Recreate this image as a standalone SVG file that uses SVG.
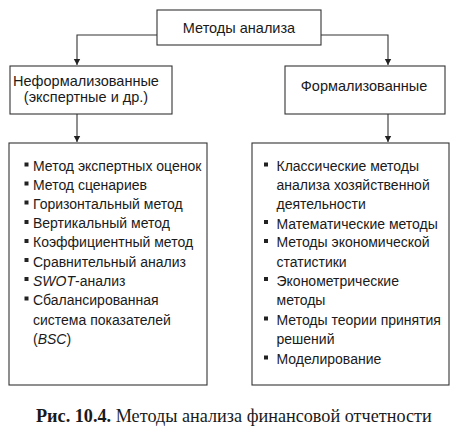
<svg xmlns="http://www.w3.org/2000/svg" width="474" height="437" viewBox="0 0 474 437">
<defs>
<marker id="ah" viewBox="0 0 6 8" refX="6" refY="4" markerWidth="6" markerHeight="8" orient="auto" markerUnits="userSpaceOnUse">
<path d="M0,0.8 L6,4 L0,7.2 Z" fill="#222"/>
</marker>
</defs>
<style>
rect.b{fill:#fff;stroke:#333;stroke-width:1.1}
text{font-family:"Liberation Sans",Arial,sans-serif;fill:#1a1a1a}
.t{font-size:14.5px}
.i{font-size:14px}
.bul{fill:#222}
.c{stroke:#333;stroke-width:1.1;fill:none}
.cap{font-family:"Liberation Serif","Times New Roman",serif;font-size:18.2px}
</style>
<rect width="474" height="437" fill="#fff"/>
<g id="connectors">
<path class="c" d="M157,35 H77 V65" marker-end="url(#ah)"/>
<path class="c" d="M321,35 H388 V65" marker-end="url(#ah)"/>
<path class="c" d="M77,114 V142" marker-end="url(#ah)"/>
<path class="c" d="M388,114 V142" marker-end="url(#ah)"/>
</g>
<g id="root">
<rect class="b" x="157" y="10" width="164" height="35"/>
<text class="t" x="239" y="33" text-anchor="middle">Методы анализа</text>
</g>
<g id="informal">
<rect class="b" x="10" y="66" width="162" height="48"/>
<text class="t" x="86" y="85.5" text-anchor="middle">Неформализованные</text>
<text class="t" x="86" y="101.5" text-anchor="middle">(экспертные и др.)</text>
</g>
<g id="formal">
<rect class="b" x="285" y="66" width="160" height="48"/>
<text class="t" x="364" y="91" text-anchor="middle">Формализованные</text>
</g>
<g id="informal-list">
<rect class="b" x="9" y="143" width="198" height="242"/>
<g class="bul">
<rect x="24.5" y="162.5" width="4" height="4"/>
<rect x="24.5" y="181.5" width="4" height="4"/>
<rect x="24.5" y="200.5" width="4" height="4"/>
<rect x="24.5" y="220" width="4" height="4"/>
<rect x="24.5" y="239" width="4" height="4"/>
<rect x="24.5" y="258" width="4" height="4"/>
<rect x="24.5" y="277" width="4" height="4"/>
<rect x="24.5" y="296.5" width="4" height="4"/>
</g>
<text class="i" x="33" y="170.7">Метод экспертных оценок</text>
<text class="i" x="33" y="189.9">Метод сценариев</text>
<text class="i" x="33" y="209">Горизонтальный метод</text>
<text class="i" x="33" y="228.2">Вертикальный метод</text>
<text class="i" x="33" y="247.4">Коэффициентный метод</text>
<text class="i" x="33" y="266.5">Сравнительный анализ</text>
<text class="i" x="33" y="285.7"><tspan font-style="italic">SWOT</tspan>-анализ</text>
<text class="i" x="33" y="304.9">Сбалансированная</text>
<text class="i" x="33" y="324.5">система показателей</text>
<text class="i" x="33" y="344">(<tspan font-style="italic">BSC</tspan>)</text>
</g>
<g id="formal-list">
<rect class="b" x="252" y="143" width="197" height="242"/>
<g class="bul">
<rect x="264" y="162.5" width="4" height="4"/>
<rect x="264" y="220" width="4" height="4"/>
<rect x="264" y="239" width="4" height="4"/>
<rect x="264" y="277" width="4" height="4"/>
<rect x="264" y="316.5" width="4" height="4"/>
<rect x="264" y="355.5" width="4" height="4"/>
</g>
<text class="i" x="276.5" y="170.7">Классические методы</text>
<text class="i" x="276.5" y="189.9">анализа хозяйственной</text>
<text class="i" x="276.5" y="209">деятельности</text>
<text class="i" x="276.5" y="228.5">Математические методы</text>
<text class="i" x="276.5" y="247.4">Методы экономической</text>
<text class="i" x="276.5" y="266.5">статистики</text>
<text class="i" x="276.5" y="285.9">Эконометрические</text>
<text class="i" x="276.5" y="305">методы</text>
<text class="i" x="276.5" y="324.5">Методы теории принятия</text>
<text class="i" x="276.5" y="344">решений</text>
<text class="i" x="276.5" y="363.5">Моделирование</text>
</g>
<text class="cap" x="36" y="421.5"><tspan font-weight="bold">Рис. 10.4.</tspan> Методы анализа финансовой отчетности</text>
</svg>
